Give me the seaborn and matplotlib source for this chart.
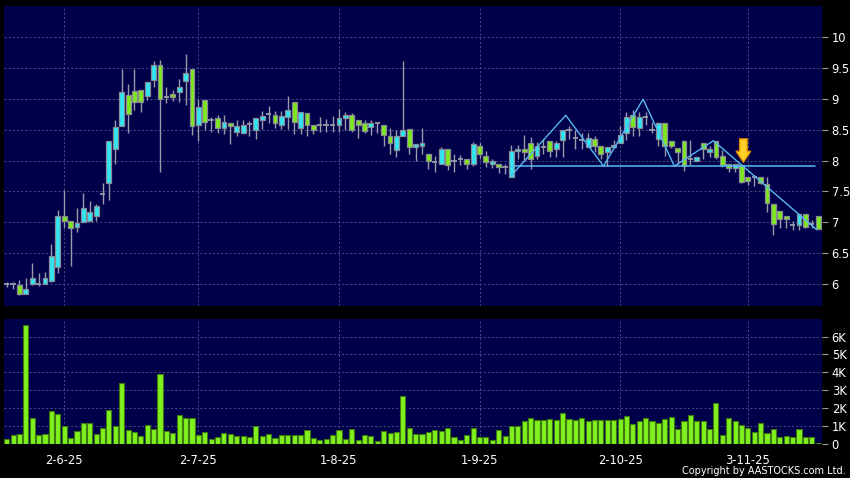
import numpy as np
import pandas as pd
import matplotlib
matplotlib.use("Agg")
import matplotlib.pyplot as plt
from matplotlib.patches import FancyArrow
import seaborn as sns

# ---------------- data ----------------
opens = [6.00, 6.00, 5.99, 5.85, 6.00, 6.00, 6.00, 6.05, 6.28, 7.11,
         7.03, 6.92, 7.01, 7.02, 7.10, 7.46, 7.63, 8.19, 8.55, 9.06,
         9.12, 9.14, 9.04, 9.30, 9.55, 9.03, 9.08, 9.10, 9.28, 9.48,
         8.57, 8.98, 8.66, 8.68, 8.53, 8.60, 8.46, 8.44, 8.59, 8.50,
         8.66, 8.75, 8.74, 8.57, 8.70, 8.94, 8.53, 8.77, 8.57, 8.57,
         8.57, 8.57, 8.57, 8.69, 8.74, 8.66, 8.61, 8.54, 8.60, 8.57,
         8.40, 8.17, 8.40, 8.51, 8.22, 8.23, 8.11, 7.97, 7.94, 8.19,
         7.99, 8.02, 8.02, 7.95, 8.24, 8.08, 7.95, 7.94, 7.90, 7.74,
         8.16, 8.19, 8.29, 8.08, 8.22, 8.31, 8.18, 8.33, 8.50, 8.37,
         8.33, 8.22, 8.35, 8.24, 8.14, 8.22, 8.29, 8.44, 8.73, 8.53,
         8.70, 8.50, 8.35, 8.61, 8.32, 8.20, 8.32, 8.02, 8.00, 8.28,
         8.14, 8.32, 8.08, 7.95, 7.88, 7.92, 7.74, 7.73, 7.74, 7.62,
         7.30, 7.19, 7.10, 6.96, 6.96, 7.13, 6.98, 7.10]
highs = [6.04, 6.04, 6.07, 6.10, 6.34, 6.18, 6.20, 6.65, 7.20, 7.53,
         7.03, 7.23, 7.47, 7.34, 7.30, 7.63, 8.31, 8.65, 9.48, 9.24,
         9.48, 9.14, 9.27, 9.61, 9.63, 9.18, 9.14, 9.31, 9.72, 9.48,
         9.00, 8.98, 8.70, 8.73, 8.73, 8.60, 8.65, 8.65, 8.64, 8.69,
         8.80, 8.88, 8.80, 8.80, 9.05, 8.94, 8.78, 8.77, 8.57, 8.70,
         8.67, 8.72, 8.84, 8.79, 8.76, 8.66, 8.66, 8.66, 8.60, 8.57,
         8.53, 8.50, 9.60, 8.51, 8.27, 8.52, 8.11, 8.07, 8.22, 8.19,
         8.11, 8.09, 8.02, 8.30, 8.28, 8.16, 8.03, 7.94, 7.95, 8.25,
         8.25, 8.41, 8.38, 8.30, 8.35, 8.31, 8.31, 8.50, 8.55, 8.49,
         8.45, 8.44, 8.40, 8.24, 8.22, 8.33, 8.55, 8.78, 8.81, 8.78,
         8.78, 8.62, 8.62, 8.61, 8.32, 8.20, 8.33, 8.33, 8.05, 8.28,
         8.24, 8.32, 8.17, 7.95, 7.94, 7.92, 7.74, 7.77, 7.74, 7.74,
         7.30, 7.19, 7.10, 7.02, 7.13, 7.13, 7.04, 7.10]
lows = [5.95, 5.93, 5.82, 5.85, 5.99, 5.97, 6.00, 6.03, 6.18, 6.91,
        6.29, 6.85, 7.01, 7.02, 7.02, 7.29, 7.36, 7.95, 8.55, 8.44,
        8.81, 8.78, 8.98, 9.18, 7.81, 8.93, 8.96, 8.95, 8.89, 8.42,
        8.32, 8.49, 8.46, 8.45, 8.43, 8.26, 8.39, 8.44, 8.40, 8.35,
        8.51, 8.61, 8.53, 8.51, 8.51, 8.43, 8.43, 8.39, 8.43, 8.46,
        8.46, 8.46, 8.46, 8.49, 8.46, 8.37, 8.44, 8.42, 8.44, 8.24,
        8.11, 8.06, 8.40, 8.10, 8.00, 8.10, 7.87, 7.81, 7.94, 7.84,
        7.82, 7.93, 7.87, 7.91, 8.04, 7.89, 7.88, 7.80, 7.79, 7.74,
        8.02, 8.00, 7.86, 8.02, 8.10, 8.06, 8.06, 8.05, 8.35, 8.19,
        8.19, 8.22, 8.14, 8.03, 7.91, 8.20, 8.29, 8.33, 8.40, 8.40,
        8.57, 8.45, 8.24, 8.08, 8.20, 7.94, 7.83, 7.93, 8.00, 8.03,
        8.05, 8.03, 7.89, 7.82, 7.82, 7.63, 7.60, 7.59, 7.62, 7.17,
        6.80, 6.91, 6.91, 6.88, 6.88, 6.91, 6.91, 6.90]
closes = [6.00, 6.00, 5.85, 5.92, 6.10, 6.00, 6.10, 6.45, 7.11, 7.03,
          6.91, 6.99, 7.23, 7.17, 7.27, 7.46, 8.31, 8.54, 9.11, 8.75,
          8.95, 8.94, 9.27, 9.55, 9.00, 9.03, 9.02, 9.19, 9.42, 8.56,
          8.87, 8.62, 8.66, 8.53, 8.63, 8.55, 8.56, 8.58, 8.59, 8.69,
          8.72, 8.75, 8.61, 8.72, 8.82, 8.62, 8.78, 8.57, 8.50, 8.57,
          8.57, 8.57, 8.69, 8.73, 8.50, 8.58, 8.48, 8.60, 8.60, 8.41,
          8.29, 8.40, 8.50, 8.22, 8.27, 8.28, 7.99, 7.97, 8.18, 7.92,
          7.99, 8.02, 7.95, 8.26, 8.10, 7.97, 7.99, 7.89, 7.90, 8.15,
          8.19, 8.14, 8.02, 8.24, 8.22, 8.16, 8.29, 8.50, 8.50, 8.37,
          8.33, 8.37, 8.24, 8.11, 8.22, 8.25, 8.41, 8.70, 8.54, 8.70,
          8.70, 8.50, 8.60, 8.24, 8.24, 8.14, 7.91, 8.02, 8.05, 8.19,
          8.19, 8.06, 7.92, 7.88, 7.94, 7.66, 7.67, 7.73, 7.63, 7.31,
          6.98, 7.06, 7.05, 6.96, 7.13, 6.93, 6.98, 6.90]
volumes_k = [0.28, 0.49, 0.56, 6.66, 1.43, 0.51, 0.53, 1.80, 1.67, 0.99,
             0.32, 0.69, 1.14, 1.18, 0.54, 0.88, 1.86, 0.99, 3.38, 0.75,
             0.66, 0.43, 1.07, 0.81, 3.88, 0.71, 0.58, 1.58, 1.41, 1.41,
             0.47, 0.64, 0.28, 0.36, 0.58, 0.53, 0.45, 0.45, 0.36, 0.98,
             0.41, 0.56, 0.30, 0.47, 0.47, 0.49, 0.51, 0.77, 0.32, 0.23,
             0.24, 0.49, 0.75, 0.24, 0.81, 0.21, 0.49, 0.45, 0.17, 0.68,
             0.60, 0.64, 2.66, 0.88, 0.56, 0.56, 0.66, 0.79, 0.73, 0.88,
             0.36, 0.19, 0.51, 0.86, 0.36, 0.36, 0.21, 0.77, 0.41, 0.99,
             0.99, 1.29, 1.46, 1.31, 1.31, 1.37, 1.31, 1.71, 1.37, 1.31,
             1.43, 1.28, 1.31, 1.35, 1.31, 1.31, 1.39, 1.52, 1.09, 1.26,
             1.41, 1.24, 1.18, 1.37, 1.50, 0.84, 1.24, 1.63, 1.26, 1.26,
             0.84, 2.29, 0.51, 1.43, 1.29, 1.05, 0.90, 0.64, 1.13, 0.62,
             0.83, 0.36, 0.43, 0.36, 0.81, 0.38, 0.38, 0.06]

date_tick_idx = [9, 30, 52, 74, 96, 116]
date_tick_labels = ["2-6-25", "2-7-25", "1-8-25", "1-9-25", "2-10-25", "3-11-25"]
price_ticks = [6, 6.5, 7, 7.5, 8, 8.5, 9, 9.5, 10]
price_tick_labels = ["6", "6.5", "7", "7.5", "8", "8.5", "9", "9.5", "10"]
vol_ticks = [0, 1, 2, 3, 4, 5, 6]
vol_tick_labels = ["0", "1K", "2K", "3K", "4K", "5K", "6K"]

# chart-pattern annotation (drawn on the reference)
neckline_idx = [79, 126.5]
neckline_price = [7.91, 7.91]
pattern_idx = [79, 87.5, 93.4, 99.6, 104.5, 110.6, 126.8]
pattern_price = [7.76, 8.73, 7.91, 8.99, 7.91, 8.32, 6.88]
signal_idx = 115.3
signal_price = 7.97

# ---------------- style ----------------
sns.set_style("dark")
plt.rcParams['font.family'] = ['DejaVu Sans']

BG = '#00004a'
CYAN = '#30e6f2'
GREEN = '#7ee81e'
EDGE = '#8a8a96'
WICK = '#9a9aaa'
GRID = '#55558a'
LINE = '#58b8f0'

W, H = 850, 478
fig = plt.figure(figsize=(W / 100, H / 100), dpi=100, facecolor='black')
ax = fig.add_axes([4 / W, 1 - 306 / H, 818 / W, 300 / H])
axv = fig.add_axes([4 / W, 1 - 444 / H, 818 / W, 125 / H])

df = pd.DataFrame({"idx": np.arange(len(opens)), "open": opens, "high": highs,
                   "low": lows, "close": closes, "vol": volumes_k})

for a in (ax, axv):
    a.set_facecolor(BG)
    for s in a.spines.values():
        s.set_visible(False)
    a.set_xlim(-0.42, 127.6)
    a.grid(True, color=GRID, linestyle=(0, (2.5, 2.5)), linewidth=0.6)
    a.set_axisbelow(True)
    a.yaxis.tick_right()
    a.tick_params(axis='y', colors='#9a9a9a', labelcolor='white', length=4,
                  width=0.8, pad=3, labelsize=8.3, left=False, right=True)
    a.set_xticks(date_tick_idx)

# ---------------- candlesticks ----------------
up = df[df.close > df.open]
dn = df[df.close < df.open]
fl = df[df.close == df.open]
ax.vlines(df.idx, df.low, df.high, color=WICK, lw=1, zorder=2)
ax.bar(up.idx, up.close - up.open, bottom=up.open, width=0.76, color=CYAN,
       edgecolor=EDGE, linewidth=0.9, zorder=3)
ax.bar(dn.idx, dn.open - dn.close, bottom=dn.close, width=0.76, color=GREEN,
       edgecolor=EDGE, linewidth=0.9, zorder=3)
ax.hlines(fl.close, fl.idx - 0.42, fl.idx + 0.42, color=WICK, lw=1.3, zorder=3)

sns.lineplot(x=neckline_idx, y=neckline_price, ax=ax, color=LINE, lw=1.1, zorder=4)
sns.lineplot(x=pattern_idx, y=pattern_price, ax=ax, color=LINE, lw=1.0, zorder=4,
             sort=False, estimator=None)

arrow = FancyArrow(signal_idx, signal_price + 0.38, 0, -0.38, width=1.2, head_width=2.3,
                   head_length=0.18, length_includes_head=True, fc='#ffd02a',
                   ec='#e08a00', lw=1.0, zorder=6)
ax.add_patch(arrow)

ax.set_ylim(5.65, 10.496)
ax.set_yticks(price_ticks)
ax.set_yticklabels(price_tick_labels)
ax.tick_params(axis='x', bottom=False, labelbottom=False)
ax.set_xlabel("")
ax.set_ylabel("")

# ---------------- volume ----------------
sns.barplot(data=df, x="idx", y="vol", native_scale=True, ax=axv, color='#80f01e',
            saturation=1, edgecolor='#3c7a10', linewidth=0.8, width=0.8,
            errorbar=None, zorder=3)
axv.set_xlim(-0.42, 127.6)
axv.set_ylim(-0.02, 6.98)
axv.set_yticks(vol_ticks)
axv.set_yticklabels(vol_tick_labels)
axv.set_xticks(date_tick_idx)
axv.set_xticklabels(date_tick_labels)
axv.tick_params(axis='x', colors='#9a9a9a', labelcolor='white', length=3, width=0.8,
                pad=4, labelsize=8.3)
axv.set_xlabel("")
axv.set_ylabel("")

fig.text(846 / W, 1 - 471 / H, "Copyright by AASTOCKS.com Ltd.", ha='right', va='center',
         color='white', fontsize=7.0)

fig.savefig("out.png", dpi=100, facecolor='black')
